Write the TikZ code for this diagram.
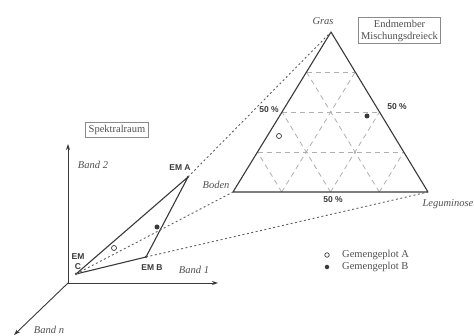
\documentclass[tikz,border=0pt]{standalone}
\usepackage{fontspec}
\setmainfont{Liberation Serif}
\setsansfont{Liberation Sans}
\usetikzlibrary{arrows.meta,calc}
\definecolor{ink}{HTML}{3A3A3A}
\definecolor{txt}{HTML}{505050}
\definecolor{boxc}{HTML}{8A8A8A}
\definecolor{gridc}{HTML}{B0B0B0}
\tikzset{
  axis/.style={draw=ink, line width=0.9pt, -{Stealth[length=6pt,width=4pt]}},
  edge/.style={draw=ink, line width=1.1pt, line join=round},
  link/.style={draw=ink!80, line width=0.9pt, dash pattern=on 2pt off 2.5pt},
  gridl/.style={draw=gridc, line width=0.8pt, dash pattern=on 5pt off 4pt},
  titlebox/.style={draw=boxc, line width=0.9pt, fill=white, text=txt, font=\fontsize{10.5}{12}\selectfont, align=center, inner sep=3pt},
  ital/.style={text=txt, font=\fontsize{10.5}{12}\selectfont\itshape, inner sep=0pt},
  em/.style={text=ink, font=\fontsize{8.5}{9.5}\selectfont\sffamily\bfseries, inner sep=0pt, align=center},
  leg/.style={text=txt, font=\fontsize{10.5}{12}\selectfont, inner sep=0pt, anchor=west},
  opendot/.style={circle, draw=ink, line width=0.7pt, fill=white, minimum size=5pt, inner sep=0pt},
  fulldot/.style={circle, fill=ink, minimum size=5pt, inner sep=0pt},
  vdot/.style={circle, fill=ink, minimum size=2.5pt, inner sep=0pt}
}
\begin{document}
\begin{tikzpicture}[x=1pt,y=-1pt]
\useasboundingbox[fill=white] (0,0) rectangle (474,336);

% ---- spectral space axes
\coordinate (O) at (68,283);
\coordinate (b2) at (68,144);
\coordinate (b1) at (218,283);
\coordinate (bn) at (14,335);
\draw[axis] (O) -- (b2);
\draw[axis] (O) -- (b1);
\draw[axis] (O) -- (bn);
\node[ital] (lb2) at (93,165) {Band 2};
\node[ital] (lb1) at (194,270) {Band 1};
\node[ital] (lbn) at (49,330) {Band n};
\node[titlebox] (spr) at (117,130) {Spektralraum};

% ---- endmembers in spectral space
\node[vdot] (A) at (188,177) {};
\node[vdot] (B) at (146,257) {};
\node[vdot] (C) at (76,274) {};
\draw[edge] (C.center) -- (A.center) -- (B.center) -- cycle;
\node[em] (lA) at (180,168) {EM A};
\node[em] (lB) at (152,268) {EM B};
\node[em, font=\fontsize{8.5}{10}\selectfont\sffamily\bfseries] (lC) at (78,262) {EM\\C};

% ---- mixing triangle
\coordinate (G) at (331,32);
\coordinate (Bo) at (233,192);
\coordinate (L) at (428,192);
\foreach \k in {1,2,3}{
  \draw[gridl] ($(Bo)!\k/4!(G)$) -- ($(L)!\k/4!(G)$);
  \draw[gridl] ($(Bo)!\k/4!(L)$) -- ($(G)!\k/4!(L)$);
  \draw[gridl] ($(L)!\k/4!(Bo)$) -- ($(G)!\k/4!(Bo)$);
}
\draw[edge] (G) -- (Bo) -- (L) -- cycle;

% ---- dotted projection lines
\draw[link] (A.center) -- (G);
\draw[link] (C.center) -- (Bo);
\draw[link] (B.center) -- (L);

% ---- samples
\node[opendot] (pA) at (114,248) {};
\node[fulldot] (pB) at (157,227) {};
\node[opendot] (tA) at (279,136) {};
\node[fulldot] (tB) at (367,116) {};

% ---- triangle labels
\node[ital] (lG) at (323,21) {Gras};
\node[ital] (lBo) at (216,185) {Boden};
\node[ital] (lL) at (448,204) {Leguminose};
\node[em] (p1) at (269,110) {50 \%};
\node[em] (p2) at (397,107) {50 \%};
\node[em] (p3) at (333,200) {50 \%};
\node[titlebox, inner sep=2.5pt] (emb) at (399.5,30.5) {Endmember\\Mischungsdreieck};

% ---- legend
\node[opendot, minimum size=4.5pt] (kA) at (327,255) {};
\node[fulldot, minimum size=4.5pt] (kB) at (327,267) {};
\node[leg] (tkA) at (342,255) {Gemengeplot A};
\node[leg] (tkB) at (342,267) {Gemengeplot B};
\end{tikzpicture}
\end{document}
